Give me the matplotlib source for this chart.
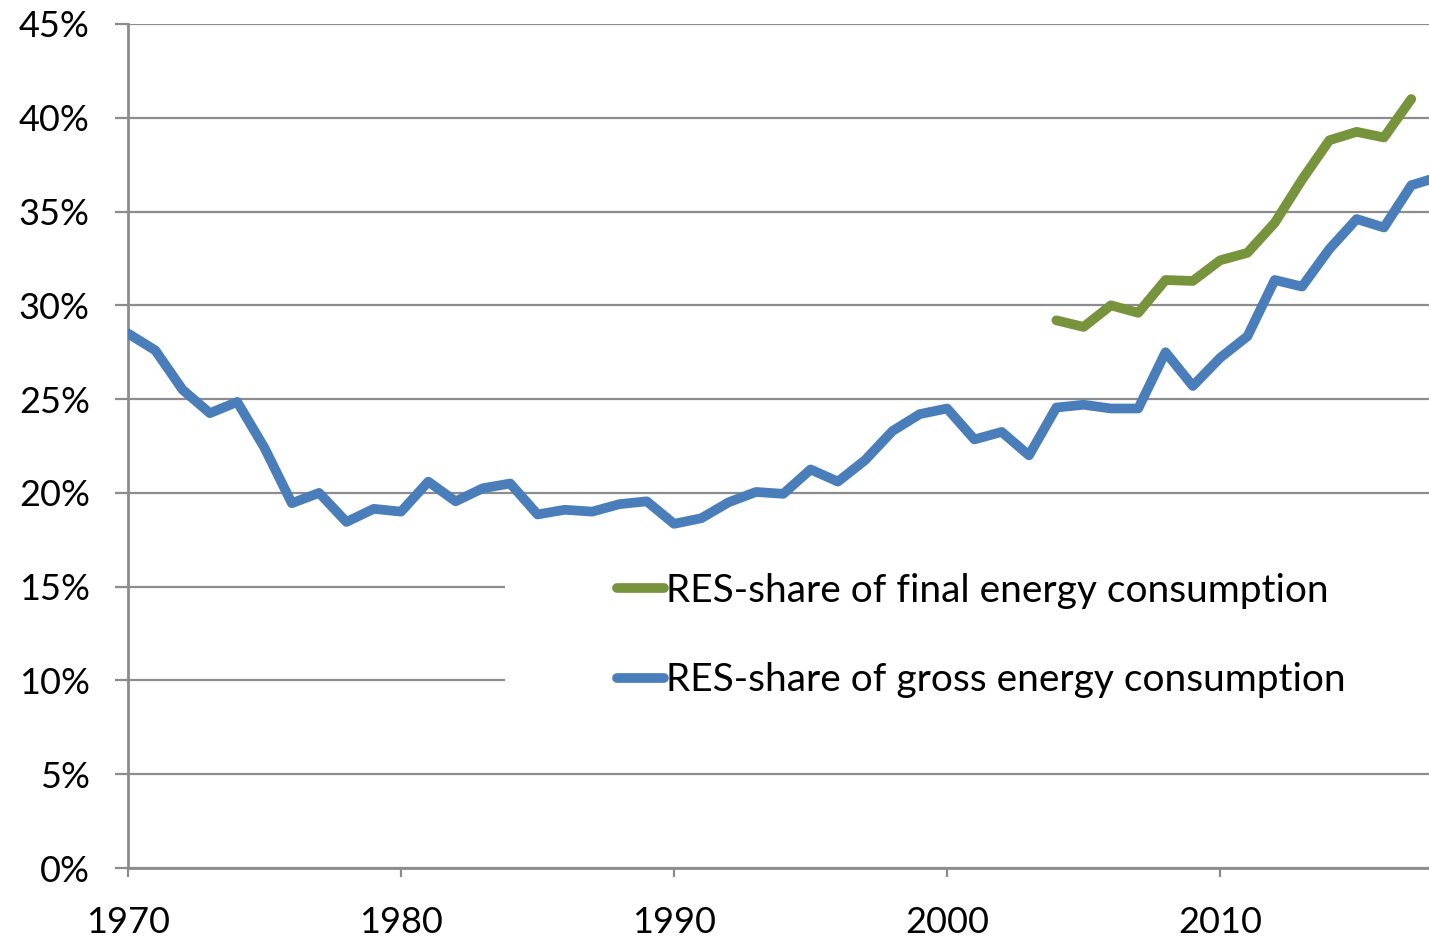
import matplotlib
matplotlib.use("Agg")
import matplotlib.pyplot as plt
from matplotlib.patches import Rectangle
from matplotlib.ticker import FuncFormatter

# Данні (у відсотках)
years_gross = list(range(1970, 2019))
gross_share = [28.5, 27.6, 25.5, 24.25, 24.85, 22.4, 19.45, 20.0, 18.45, 19.15,
               19.0, 20.6, 19.55, 20.25, 20.5, 18.85, 19.1, 19.0, 19.4, 19.55,
               18.35, 18.65, 19.5, 20.05, 19.95, 21.25, 20.6, 21.75, 23.3, 24.2,
               24.5, 22.85, 23.25, 22.0, 24.55, 24.7, 24.5, 24.5, 27.5, 25.7,
               27.2, 28.35, 31.35, 31.0, 33.0, 34.6, 34.15, 36.4, 36.85]

years_final = list(range(2004, 2018))
final_share = [29.2, 28.85, 30.0, 29.6, 31.35, 31.3, 32.4, 32.8, 34.4, 36.7,
               38.8, 39.25, 38.95, 41.0]

label_final = "RES-share of final energy consumption"
label_gross = "RES-share of gross energy consumption"

blue = "#4a7ebb"
green = "#77933c"
grid_color = "#8c8c8c"

plt.rcParams["font.family"] = ["Lato", "DejaVu Sans"]

fig = plt.figure(figsize=(14.29, 9.41), dpi=100)
ax = fig.add_axes([128 / 1429, 73 / 941, 1 - 128 / 1429, 844 / 941])

ax.plot(years_final, final_share, color=green, lw=7, solid_capstyle="round",
        solid_joinstyle="round", label=label_final, zorder=3)
ax.plot(years_gross, gross_share, color=blue, lw=7, solid_capstyle="round",
        solid_joinstyle="round", label=label_gross, zorder=3)

ax.set_xlim(1970, 2017.65)
ax.set_ylim(0, 45)
ax.set_xticks(range(1970, 2011, 10))
ax.set_yticks(range(0, 46, 5))
ax.yaxis.set_major_formatter(FuncFormatter(lambda v, p: f"{v:.0f}%"))

ax.set_axisbelow(True)
ax.grid(axis="y", color=grid_color, lw=1.6)
for s in ["top", "right"]:
    ax.spines[s].set_visible(False)
for s in ["left", "bottom"]:
    ax.spines[s].set_color(grid_color)
    ax.spines[s].set_linewidth(2)
ax.tick_params(axis="y", length=9.5, width=1.6, color=grid_color, pad=18, labelsize=26)
ax.tick_params(axis="x", length=6.5, width=1.6, color=grid_color, pad=21, labelsize=26)

# біла підкладка під легендою
ax.add_patch(Rectangle((0.29, 0.175), 0.72, 0.2, transform=ax.transAxes,
                       facecolor="white", edgecolor="none", zorder=1))

handles, labels = ax.get_legend_handles_labels()
ax.legend(handles, labels, loc="upper left", bbox_to_anchor=(0.376, 0.35),
          frameon=False, fontsize=28, handlelength=1.2, handletextpad=0.05,
          borderaxespad=0, borderpad=0, labelspacing=1.38)

fig.savefig("out.png", dpi=100)
